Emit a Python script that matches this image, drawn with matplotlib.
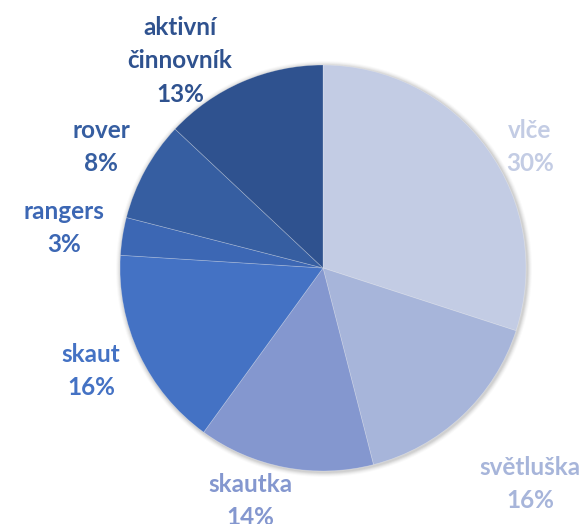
import matplotlib.pyplot as plt
from matplotlib.patches import Circle

categories = ["vlče", "světluška", "skautka", "skaut", "rangers", "rover", "aktivní\nčinnovník"]
shares = [30, 16, 14, 16, 3, 8, 13]
colors = ["#C3CCE4", "#A7B5DA", "#8497CF", "#4472C4", "#3C67B4", "#365EA1", "#2F528F"]

# label anchor points in pixels (x from left, y from top), Excel-style placement
label_xy = [(530, 147), (530, 484), (250, 501), (91, 371), (64, 228), (101, 147), (180, 61)]

W, H = 584, 524
cx, cy, r = 323, 268, 203

fig = plt.figure(figsize=(W / 100, H / 100), dpi=100)
ax = fig.add_axes([0, 0, 1, 1])

# soft shadow behind the pie
for i, a in enumerate([0.05, 0.05, 0.04, 0.03, 0.02]):
    ax.add_patch(Circle((cx + 1, H - cy - 1), r + 1 + i, color="black", alpha=a, lw=0, zorder=0))

wedges, _ = ax.pie(shares, colors=colors, startangle=90, counterclock=False,
                   center=(cx, H - cy), radius=r, frame=True,
                   wedgeprops=dict(edgecolor=(1, 1, 1, 0.3), linewidth=0.5))
ax.set_xlim(0, W)
ax.set_ylim(0, H)
ax.set_aspect("equal")
ax.axis("off")

for name, val, col, (x, y) in zip(categories, shares, colors, label_xy):
    ax.text(x, H - y, f"{name}\n{val}%", color=col, ha="center", va="center",
            fontsize=17.5, fontweight="bold", family="Lato", linespacing=1.55)

fig.savefig("out.png", dpi=100)
